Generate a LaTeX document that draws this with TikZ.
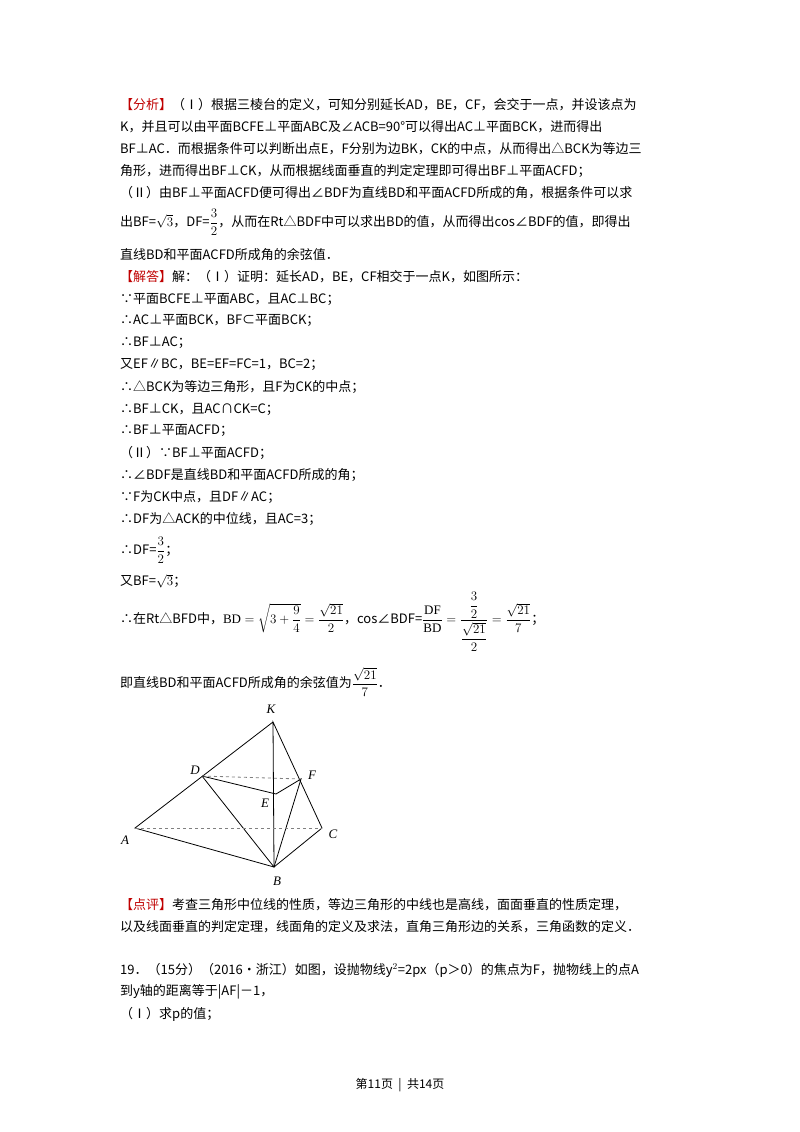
\RequirePackage{fix-cm}
\documentclass[tikz,border=0pt]{standalone}
\usepackage{amsmath}
\usepackage{fontspec}
\setmainfont{Liberation Serif}
\newfontfamily\cjk{Noto Sans CJK SC}
\definecolor{hl}{HTML}{C00000}
\begin{document}
\begin{tikzpicture}[x=1pt,y=-1pt,
  ln/.style={anchor=west,inner sep=0pt,font=\cjk\fontsize{13}{15}\selectfont},
  pt/.style={inner sep=1pt,font=\itshape\fontsize{13}{15}\selectfont},
  edge/.style={line width=0.8pt},
  hid/.style={line width=0.8pt,dashed,gray}]
\useasboundingbox[fill=white] (0,0) rectangle (800,1132);
\node[ln] (l1) at (120,105) {{\color{hl}【分析】}（Ⅰ）根据三棱台的定义，可知分别延长AD，BE，CF，会交于一点，并设该点为};
\node[ln] (l2) at (120,127) {K，并且可以由平面BCFE⊥平面ABC及∠ACB=90°可以得出AC⊥平面BCK，进而得出};
\node[ln] (l3) at (120,149) {BF⊥AC．而根据条件可以判断出点E，F分别为边BK，CK的中点，从而得出△BCK为等边三};
\node[ln] (l4) at (120,171) {角形，进而得出BF⊥CK，从而根据线面垂直的判定定理即可得出BF⊥平面ACFD；};
\node[ln] (l5) at (120,193) {（Ⅱ）由BF⊥平面ACFD便可得出∠BDF为直线BD和平面ACFD所成的角，根据条件可以求};
\node[ln] (l6) at (120,222) {出BF=$\sqrt{3}$，DF=$\dfrac{3}{2}$，从而在Rt△BDF中可以求出BD的值，从而得出cos∠BDF的值，即得出};
\node[ln] (l7) at (120,255) {直线BD和平面ACFD所成角的余弦值．};
\node[ln] (l8) at (120,277) {{\color{hl}【解答】}解：（Ⅰ）证明：延长AD，BE，CF相交于一点K，如图所示：};
\node[ln] (l9) at (120,299) {∵平面BCFE⊥平面ABC，且AC⊥BC；};
\node[ln] (l10) at (120,321) {∴AC⊥平面BCK，BF⊂平面BCK；};
\node[ln] (l11) at (120,343) {∴BF⊥AC；};
\node[ln] (l12) at (120,365) {又EF∥BC，BE=EF=FC=1，BC=2；};
\node[ln] (l13) at (120,387) {∴△BCK为等边三角形，且F为CK的中点；};
\node[ln] (l14) at (120,409) {∴BF⊥CK，且AC∩CK=C；};
\node[ln] (l15) at (120,431) {∴BF⊥平面ACFD；};
\node[ln] (l16) at (120,453) {（Ⅱ）∵BF⊥平面ACFD；};
\node[ln] (l17) at (120,475) {∴∠BDF是直线BD和平面ACFD所成的角；};
\node[ln] (l18) at (120,497) {∵F为CK中点，且DF∥AC；};
\node[ln] (l19) at (120,519) {∴DF为△ACK的中位线，且AC=3；};
\node[ln] (l20) at (120,550) {∴DF=$\dfrac{3}{2}$；};
\node[ln] (l21) at (120,581) {又BF=$\sqrt{3}$；};
\node[ln] (l22) at (120,622) {∴在Rt△BFD中，$\mathrm{BD}=\sqrt{3+\dfrac{9}{4}}=\dfrac{\sqrt{21}}{2}$，cos∠BDF=$\dfrac{\mathrm{DF}}{\mathrm{BD}}=\dfrac{\;\dfrac{3}{2}\;}{\dfrac{\sqrt{21}}{2}}=\dfrac{\sqrt{21}}{7}$；};
\node[ln] (l23) at (120,682) {即直线BD和平面ACFD所成角的余弦值为$\dfrac{\sqrt{21}}{7}$．};
% figure
\coordinate (K) at (273,722);
\coordinate (D) at (202,776);
\coordinate (F) at (301,779);
\coordinate (E) at (276,794);
\coordinate (A) at (135,828);
\coordinate (C) at (322,828);
\coordinate (B) at (274,867);
\draw[edge] (K) -- (A) -- (B) -- (C) -- (K) -- (B);
\draw[edge] (D) -- (E) -- (F) -- (B) -- (D);
\draw[hid] (D) -- (F);
\draw[hid] (A) -- (C);
\node[pt] (lK) at (271,709) {K};
\node[pt] (lD) at (195,770) {D};
\node[pt] (lF) at (312,775) {F};
\node[pt] (lE) at (265,803) {E};
\node[pt] (lA) at (125,840) {A};
\node[pt] (lC) at (333,834) {C};
\node[pt] (lB) at (277,881) {B};
\node[ln] (l24) at (120,905) {{\color{hl}【点评】}考查三角形中位线的性质，等边三角形的中线也是高线，面面垂直的性质定理，};
\node[ln] (l25) at (120,927) {以及线面垂直的判定定理，线面角的定义及求法，直角三角形边的关系，三角函数的定义．};
\node[ln] (l26) at (120,970) {19．（15分）（2016•浙江）如图，设抛物线y$^2$=2px（p＞0）的焦点为F，抛物线上的点A};
\node[ln] (l27) at (120,992) {到y轴的距离等于|AF|－1，};
\node[ln] (l28) at (120,1014) {（Ⅰ）求p的值；};
\node[ln,anchor=center,font=\cjk\fontsize{12}{14}\selectfont] (pg) at (400,1085) {第11页 \ | \ 共14页};
\end{tikzpicture}
\end{document}
